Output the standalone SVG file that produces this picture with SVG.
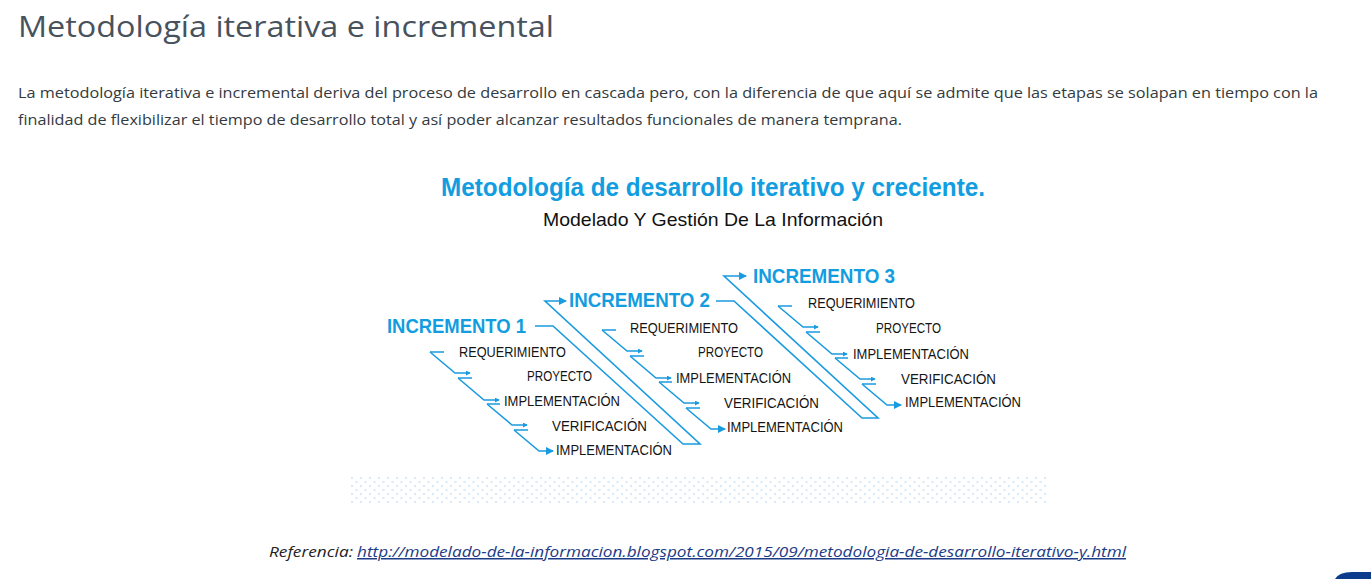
<svg xmlns="http://www.w3.org/2000/svg" width="1371" height="579" viewBox="0 0 1371 579">
<defs>
<style>
.hdr{font-family:"Open Sans","Liberation Sans",sans-serif;font-weight:400;font-size:30px;fill:#47525d}
.par{font-family:"Open Sans","Liberation Sans",sans-serif;font-weight:500;font-size:15px;fill:#333a40}
.ttl{font-family:"Liberation Sans",Arial,sans-serif;font-weight:bold;font-size:25px;fill:#129de0}
.sub{font-family:"Liberation Sans",Arial,sans-serif;font-size:19px;fill:#111}
.inc{font-family:"Liberation Sans",Arial,sans-serif;font-weight:bold;font-size:20px;fill:#129de0}
.lbl{font-family:"Liberation Sans",Arial,sans-serif;font-size:14px;fill:#141414}
.ref{font-family:"Open Sans","Liberation Sans",sans-serif;font-style:italic;font-size:15px;fill:#222}
.lnk{font-family:"Open Sans","Liberation Sans",sans-serif;font-style:italic;font-size:15px;fill:#1d3b86;text-decoration:underline}
.ln{fill:none;stroke:#1a9be0;stroke-width:1.6}
</style>
<marker id="ah" viewBox="0 0 8 8" refX="7" refY="4" markerWidth="8" markerHeight="8" markerUnits="userSpaceOnUse" orient="auto">
<path d="M0,0 L8,4 L0,8 Z" fill="#1a9be0"/>
</marker>
<marker id="sh" viewBox="0 0 6 6" refX="5" refY="3" markerWidth="5" markerHeight="5" markerUnits="userSpaceOnUse" orient="auto">
<path d="M0,0 L6,3 L0,6 Z" fill="#1a9be0"/>
</marker>
<pattern id="dots" x="350" y="476" width="9" height="8" patternUnits="userSpaceOnUse">
<circle cx="2" cy="2" r="1.2" fill="#dbeaf8"/>
<circle cx="6.5" cy="6" r="1.2" fill="#dbeaf8"/>
</pattern>
</defs>
<rect width="1371" height="579" fill="#ffffff"/>

<g id="header">
<text class="hdr" x="18" y="37" textLength="536" lengthAdjust="spacingAndGlyphs">Metodología iterativa e incremental</text>
<text class="par" x="18" y="98" textLength="1300" lengthAdjust="spacingAndGlyphs">La metodología iterativa e incremental deriva del proceso de desarrollo en cascada pero, con la diferencia de que aquí se admite que las etapas se solapan en tiempo con la</text>
<text class="par" x="18" y="125" textLength="884" lengthAdjust="spacingAndGlyphs">finalidad de flexibilizar el tiempo de desarrollo total y así poder alcanzar resultados funcionales de manera temprana.</text>
</g>

<g id="title">
<text class="ttl" x="441" y="196" textLength="544" lengthAdjust="spacingAndGlyphs">Metodología de desarrollo iterativo y creciente.</text>
<text class="sub" x="543" y="226" textLength="340" lengthAdjust="spacingAndGlyphs">Modelado Y Gestión De La Información</text>
</g>

<g id="connectors">
<path class="ln" d="M535,326 H553 L683,444 H700 L545,301 H566" marker-end="url(#ah)"/>
<path class="ln" d="M716,301 H734 L862,418 H878 L724,276 H746" marker-end="url(#ah)"/>
<g id="stair1">
<path class="ln" d="M430,352 H444 M458,378 H472 M487,404 H500 M514,430 H528"/>
<path class="ln" d="M430,352 L455,373 H470" marker-end="url(#sh)"/>
<path class="ln" d="M458,378 L484,400 H499" marker-end="url(#sh)"/>
<path class="ln" d="M487,404 L512,425 H527" marker-end="url(#sh)"/>
<path class="ln" d="M514,430 L539,451 H553" marker-end="url(#ah)"/>
</g>
<g id="stair2" transform="translate(172,-22)">
<path class="ln" d="M430,352 H444 M458,378 H472 M487,404 H500 M514,430 H528"/>
<path class="ln" d="M430,352 L455,373 H470" marker-end="url(#sh)"/>
<path class="ln" d="M458,378 L484,400 H499" marker-end="url(#sh)"/>
<path class="ln" d="M487,404 L512,425 H527" marker-end="url(#sh)"/>
<path class="ln" d="M514,430 L539,451 H553" marker-end="url(#ah)"/>
</g>
<g id="stair3" transform="translate(348,-46)">
<path class="ln" d="M430,352 H444 M458,378 H472 M487,404 H500 M514,430 H528"/>
<path class="ln" d="M430,352 L455,373 H470" marker-end="url(#sh)"/>
<path class="ln" d="M458,378 L484,400 H499" marker-end="url(#sh)"/>
<path class="ln" d="M487,404 L512,425 H527" marker-end="url(#sh)"/>
<path class="ln" d="M514,430 L539,451 H553" marker-end="url(#ah)"/>
</g>
</g>

<g id="increment1">
<text class="inc" x="387" y="333" textLength="139" lengthAdjust="spacingAndGlyphs">INCREMENTO 1</text>
<text class="lbl" x="459" y="357" textLength="107" lengthAdjust="spacingAndGlyphs">REQUERIMIENTO</text>
<text class="lbl" x="527" y="381" textLength="65" lengthAdjust="spacingAndGlyphs">PROYECTO</text>
<text class="lbl" x="504" y="406" textLength="116" lengthAdjust="spacingAndGlyphs">IMPLEMENTACIÓN</text>
<text class="lbl" x="552" y="431" textLength="95" lengthAdjust="spacingAndGlyphs">VERIFICACIÓN</text>
<text class="lbl" x="556" y="455" textLength="116" lengthAdjust="spacingAndGlyphs">IMPLEMENTACIÓN</text>
</g>

<g id="increment2">
<text class="inc" x="569" y="307" textLength="141" lengthAdjust="spacingAndGlyphs">INCREMENTO 2</text>
<text class="lbl" x="630" y="333" textLength="108" lengthAdjust="spacingAndGlyphs">REQUERIMIENTO</text>
<text class="lbl" x="698" y="357" textLength="65" lengthAdjust="spacingAndGlyphs">PROYECTO</text>
<text class="lbl" x="676" y="383" textLength="115" lengthAdjust="spacingAndGlyphs">IMPLEMENTACIÓN</text>
<text class="lbl" x="724" y="408" textLength="95" lengthAdjust="spacingAndGlyphs">VERIFICACIÓN</text>
<text class="lbl" x="727" y="432" textLength="116" lengthAdjust="spacingAndGlyphs">IMPLEMENTACIÓN</text>
</g>

<g id="increment3">
<text class="inc" x="753" y="283" textLength="142" lengthAdjust="spacingAndGlyphs">INCREMENTO 3</text>
<text class="lbl" x="808" y="308" textLength="107" lengthAdjust="spacingAndGlyphs">REQUERIMIENTO</text>
<text class="lbl" x="876" y="333" textLength="65" lengthAdjust="spacingAndGlyphs">PROYECTO</text>
<text class="lbl" x="853" y="359" textLength="116" lengthAdjust="spacingAndGlyphs">IMPLEMENTACIÓN</text>
<text class="lbl" x="901" y="384" textLength="95" lengthAdjust="spacingAndGlyphs">VERIFICACIÓN</text>
<text class="lbl" x="905" y="407" textLength="116" lengthAdjust="spacingAndGlyphs">IMPLEMENTACIÓN</text>
</g>

<g id="dotband">
<rect x="350" y="476" width="698" height="27" fill="url(#dots)"/>
</g>

<g id="reference">
<text class="ref" x="269" y="557" textLength="84" lengthAdjust="spacingAndGlyphs">Referencia:</text>
<text class="lnk" x="357" y="557" textLength="769" lengthAdjust="spacingAndGlyphs">http://modelado-de-la-informacion.blogspot.com/2015/09/metodologia-de-desarrollo-iterativo-y.html</text>
</g>

<g id="corner">
<path d="M1335,579 Q1339,572 1352,572 H1371 V579 Z" fill="#0d3c8c"/>
</g>
</svg>
